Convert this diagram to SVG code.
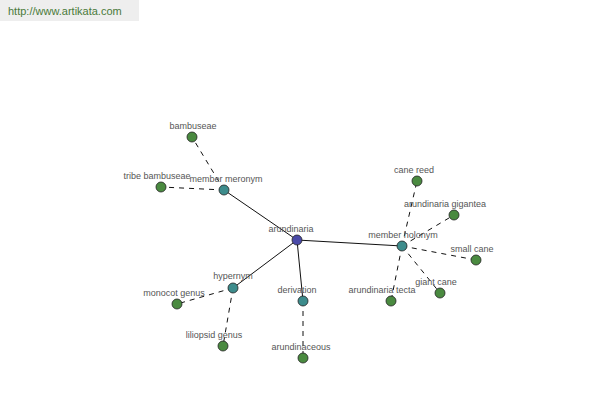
<svg xmlns="http://www.w3.org/2000/svg" width="600" height="400" viewBox="0 0 600 400">
<style>
.lbl{font-family:"Liberation Sans",Arial,sans-serif;font-size:9px;fill:#555;text-anchor:middle}
.n{stroke:#222;stroke-width:0.8}
.root{fill:#4a4aa8}
.mid{fill:#3d8c8c}
.leaf{fill:#4a8a40}
.s{stroke:#111;stroke-width:1;fill:none}
.d{stroke:#111;stroke-width:1;fill:none;stroke-dasharray:5,5}
</style>
<rect x="0" y="0" width="600" height="400" fill="#fff"/>
<rect x="0" y="0" width="139" height="21" fill="#eeeeee"/>
<text x="8" y="15" font-family="'Liberation Sans',Arial,sans-serif" font-size="11" fill="#4a7a3a">http://www.artikata.com</text>
<g id="connectors">
<line class="s" x1="297" y1="240" x2="224" y2="190"/>
<line class="s" x1="297" y1="240" x2="233" y2="288"/>
<line class="s" x1="297" y1="240" x2="303" y2="301"/>
<line class="s" x1="297" y1="240" x2="402" y2="246"/>
<line class="d" x1="224" y1="190" x2="192" y2="137"/>
<line class="d" x1="224" y1="190" x2="161" y2="187"/>
<line class="d" x1="233" y1="288" x2="177" y2="304"/>
<line class="d" x1="233" y1="288" x2="223" y2="346"/>
<line class="d" x1="303" y1="301" x2="303" y2="358"/>
<line class="d" x1="402" y1="246" x2="417" y2="181"/>
<line class="d" x1="402" y1="246" x2="454" y2="215"/>
<line class="d" x1="402" y1="246" x2="476" y2="260"/>
<line class="d" x1="402" y1="246" x2="440" y2="293"/>
<line class="d" x1="402" y1="246" x2="391" y2="301"/>
</g>
<g id="arundinaria"><circle class="n root" cx="297" cy="240" r="5"/><text class="lbl" x="291" y="232">arundinaria</text></g>
<g id="member-meronym"><circle class="n mid" cx="224" cy="190" r="5"/><text class="lbl" x="226" y="182">member meronym</text></g>
<g id="bambuseae"><circle class="n leaf" cx="192" cy="137" r="5"/><text class="lbl" x="193" y="129">bambuseae</text></g>
<g id="tribe-bambuseae"><circle class="n leaf" cx="161" cy="187" r="5"/><text class="lbl" x="157" y="179">tribe bambuseae</text></g>
<g id="hypernym"><circle class="n mid" cx="233" cy="288" r="5"/><text class="lbl" x="233" y="279">hypernym</text></g>
<g id="monocot-genus"><circle class="n leaf" cx="177" cy="304" r="5"/><text class="lbl" x="174" y="296">monocot genus</text></g>
<g id="liliopsid-genus"><circle class="n leaf" cx="223" cy="346" r="5"/><text class="lbl" x="214" y="338">liliopsid genus</text></g>
<g id="derivation"><circle class="n mid" cx="303" cy="301" r="5"/><text class="lbl" x="297" y="293">derivation</text></g>
<g id="arundinaceous"><circle class="n leaf" cx="303" cy="358" r="5"/><text class="lbl" x="301" y="350">arundinaceous</text></g>
<g id="member-holonym"><circle class="n mid" cx="402" cy="246" r="5"/><text class="lbl" x="403" y="238">member holonym</text></g>
<g id="cane-reed"><circle class="n leaf" cx="417" cy="181" r="5"/><text class="lbl" x="414" y="173">cane reed</text></g>
<g id="arundinaria-gigantea"><circle class="n leaf" cx="454" cy="215" r="5"/><text class="lbl" x="445" y="207">arundinaria gigantea</text></g>
<g id="small-cane"><circle class="n leaf" cx="476" cy="260" r="5"/><text class="lbl" x="472" y="252">small cane</text></g>
<g id="giant-cane"><circle class="n leaf" cx="440" cy="293" r="5"/><text class="lbl" x="436" y="285">giant cane</text></g>
<g id="arundinaria-tecta"><circle class="n leaf" cx="391" cy="301" r="5"/><text class="lbl" x="382" y="293">arundinaria tecta</text></g>
</svg>
